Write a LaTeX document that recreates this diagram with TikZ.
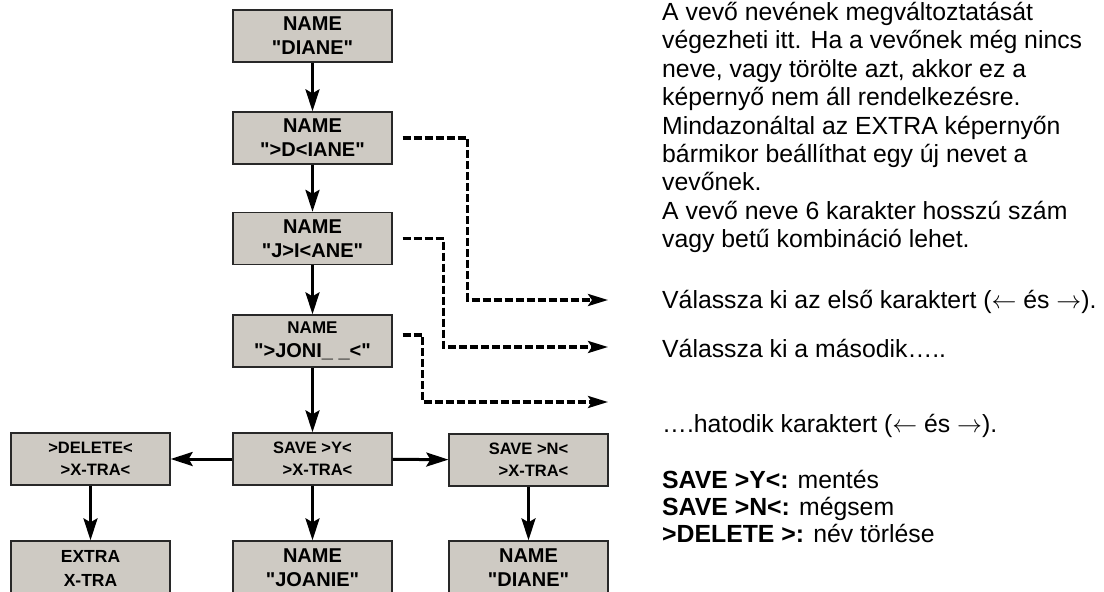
\documentclass[tikz,border=0pt]{standalone}
\usepackage{fontspec}
\setmainfont{Liberation Sans}[Ligatures=TeXOff]
\usetikzlibrary{arrows.meta}
\definecolor{panel}{RGB}{206,202,195}
\definecolor{rim}{RGB}{40,40,40}
\begin{document}
\begin{tikzpicture}[x=1pt,y=-1pt,
  screen/.style={draw=rim, line width=1.3pt, fill=panel, minimum width=159pt,
    minimum height=52pt, inner sep=0pt, align=center},
  bigtxt/.style={font=\fontsize{20}{24}\selectfont\bfseries},
  midtxt/.style={font=\fontsize{16.5}{22}\selectfont\bfseries},
  flow/.style={line width=3pt, -{Stealth[length=22pt,width=14pt,inset=4pt]}},
  hint/.style={line width=3.3pt, dash pattern=on 8pt off 3pt,
    -{Stealth[length=20pt,width=12pt,inset=4pt]}, shorten <=10pt},
  note/.style={anchor=base west, inner sep=0pt, font=\fontsize{24.8}{28}\selectfont}
]
\useasboundingbox (0,0) rectangle (1104,592);

% name entry screens
\node[screen, bigtxt] (b1) at (312.5,36) {NAME\\"DIANE"};
\node[screen, bigtxt] (b2) at (312.5,138) {NAME\\">D<IANE"};
\node[screen, bigtxt] (b3) at (312.5,238.5) {NAME\\"J>I<ANE"};
\node[screen, bigtxt] (b4) at (312.5,341) {{\fontsize{17}{22}\selectfont NAME}\\">JONI\_ \_<"};

% confirmation screens
\node[screen, midtxt] (bs) at (312.5,459) {SAVE >Y<\\\hspace*{10pt}>X-TRA<};
\node[screen, midtxt] (bd) at (90.5,459) {>DELETE<\\\hspace*{10pt}>X-TRA<};
\node[screen, midtxt] (bn) at (528.5,460) {SAVE >N<\\\hspace*{10pt}>X-TRA<};

% result screens
\node[screen, minimum height=54pt, font=\fontsize{17.5}{24}\selectfont\bfseries] (be) at (90.5,568) {EXTRA\\X-TRA};
\node[screen, bigtxt, minimum height=54pt] (bj) at (312.5,568) {NAME\\"JOANIE"};
\node[screen, bigtxt, minimum height=54pt] (bk) at (528.5,568) {NAME\\"DIANE"};

% main flow
\draw[flow] (b1) -- (b2);
\draw[flow] (b2) -- (b3);
\draw[flow] (b3) -- (b4);
\draw[flow] (b4) -- (bs);
\draw[flow] (bs) -- (bd);
\draw[flow] (bs) -- (bn);
\draw[flow] (bd) -- (be);
\draw[flow] (bs) -- (bj);
\draw[flow] (bn) -- (bk);

% explanation pointers
\coordinate (e1) at (608,300);
\coordinate (e2) at (608,347);
\coordinate (e3) at (608,402);
\draw[hint] (b2.east) -- ++(75,0) |- (e1);
\draw[hint] (b3.east) -- ++(51,0) |- (e2);
\draw[hint] ([yshift=6pt]b4.east) -- ++(30,0) |- (e3);

% description
\foreach \t [count=\i from 0] in {%
  A vevő nevének megváltoztatását,
  végezheti itt. Ha a vevőnek még nincs,
  {neve, vagy törölte azt, akkor ez a},
  képernyő nem áll rendelkezésre.,
  Mindazonáltal az EXTRA képernyőn,
  bármikor beállíthat egy új nevet a,
  vevőnek.,
  A vevő neve 6 karakter hosszú szám,
  vagy betű kombináció lehet.}
  \node[note] (d\i) at (662,20.5+28.4*\i) {\t};

\node[note] (s1) at (662,308) {Válassza ki az első karaktert ($\leftarrow$ és $\rightarrow$).};
\node[note] (s2) at (662,357) {Válassza ki a második…..};
\node[note] (s3) at (662,432) {….hatodik karaktert ($\leftarrow$ és $\rightarrow$).};

\node[note] (k1) at (662,488) {\textbf{SAVE >Y<:} mentés};
\node[note] (k2) at (662,515) {\textbf{SAVE >N<:} mégsem};
\node[note] (k3) at (662,542) {\textbf{>DELETE >:} név törlése};
\end{tikzpicture}
\end{document}
